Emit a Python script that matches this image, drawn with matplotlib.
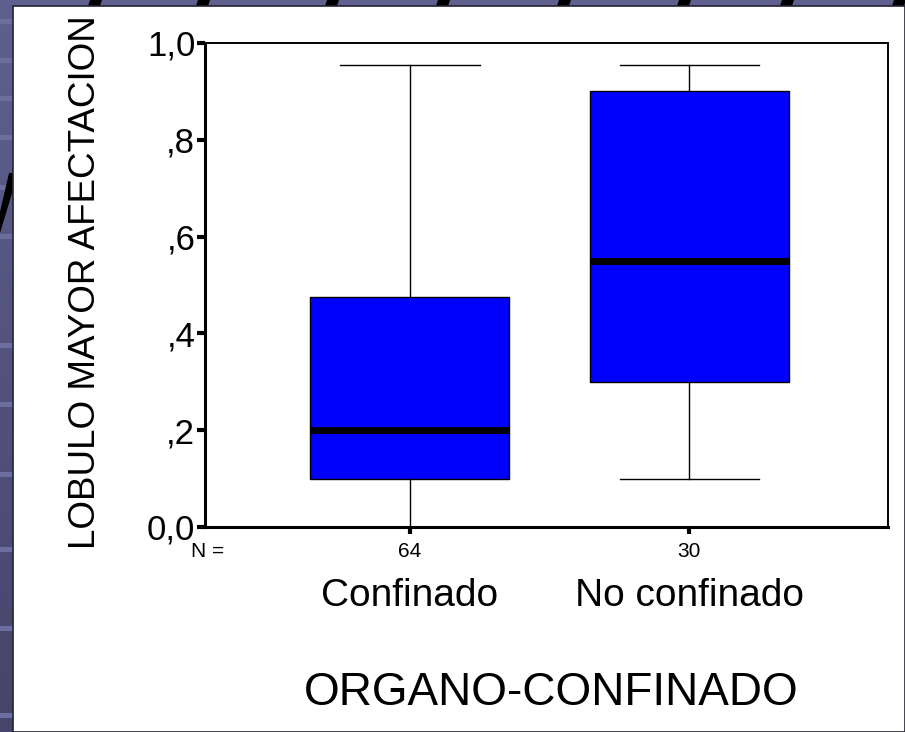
import matplotlib
matplotlib.use("Agg")
import matplotlib.pyplot as plt
import numpy as np
from matplotlib.patches import Polygon, Rectangle
from matplotlib.colors import LinearSegmentedColormap

plt.rcParams['font.family'] = ['Liberation Sans', 'DejaVu Sans']

# ---- data ----
categories = ["Confinado", "No confinado"]
n_values = [64, 30]
whis_low = [0.0, 0.10]
q1 = [0.10, 0.30]
medians = [0.20, 0.55]
q3 = [0.475, 0.90]
whis_high = [0.955, 0.955]
y_ticks = [0.0, 0.2, 0.4, 0.6, 0.8, 1.0]
y_ticklabels = ["0,0", ",2", ",4", ",6", ",8", "1,0"]
y_label = "LOBULO MAYOR AFECTACION"
x_label = "ORGANO-CONFINADO"

W, H = 905, 732
fig = plt.figure(figsize=(W / 100, H / 100), dpi=100)

# ---- slide background ----
bg = fig.add_axes([0, 0, 1, 1], zorder=-10)
bg.set_xlim(0, W)
bg.set_ylim(H, 0)
bg.axis('off')
grad = np.linspace(0, 1, 200)[:, None]
cmap = LinearSegmentedColormap.from_list('bgc', ['#60608f', '#45456b'])
bg.imshow(grad, extent=(0, W, H, 0), cmap=cmap, aspect='auto')
for yy in [19, 58, 96, 135, 185, 234, 343, 402, 472, 547, 626, 713]:
    bg.add_patch(Rectangle((0, yy), 13, 5, color='#6e6e9e', lw=0))
for xx in [88, 196, 325, 436, 557, 677, 780, 892]:
    bg.add_patch(Polygon([(xx, 6), (xx + 12, 6), (xx + 14, 0), (xx + 2, 0)],
                         closed=True, color='black', lw=0))
bg.add_patch(Polygon([(0, 233), (0, 212), (9, 173), (13, 173), (13, 190)],
                     closed=True, color='black', lw=0))
bg.add_patch(Rectangle((13, 6), W - 13, H - 6, facecolor='white', edgecolor='#222233', lw=1.2))

# ---- main axes ----
ax = fig.add_axes([205 / W, 1 - 527 / H, 683 / W, 484 / H])
positions = [1, 2]
stats = []
for i in range(len(categories)):
    stats.append(dict(whislo=whis_low[i], q1=q1[i], med=medians[i], q3=q3[i],
                      whishi=whis_high[i], fliers=[]))
ax.bxp(stats, positions=positions, widths=0.712, capwidths=0.498, patch_artist=True,
       showfliers=False,
       boxprops=dict(facecolor='#0000ff', edgecolor='black', linewidth=1.0),
       medianprops=dict(color='black', linewidth=5),
       whiskerprops=dict(color='black', linewidth=1.0),
       capprops=dict(color='black', linewidth=1.0))

ax.set_xlim(0.2665, 2.711)
ax.set_ylim(0, 1.0)
ax.set_yticks(y_ticks)
ax.set_yticklabels(y_ticklabels, fontsize=25)
ax.tick_params(axis='y', direction='out', length=6, width=3, pad=1, colors='black')
ax.set_xticks(positions)
ax.set_xticklabels([str(v) for v in n_values], fontsize=15)
ax.tick_params(axis='x', direction='out', length=5, width=3, pad=6)
for s in ['left', 'bottom']:
    ax.spines[s].set_linewidth(2.2)
for s in ['top', 'right']:
    ax.spines[s].set_linewidth(1.4)

ax.text((208 - 205) / 683, -0.05, "N =", transform=ax.transAxes, fontsize=15,
        ha='center', va='center')
for p, c in zip(positions, categories):
    ax.text(p, -0.143, c, transform=ax.get_xaxis_transform(), fontsize=28,
            ha='center', va='center')
ax.text(0.507, -0.343, x_label, transform=ax.transAxes, fontsize=33,
        ha='center', va='center')
ax.text((86 - 205) / 683, 0.505, y_label, transform=ax.transAxes, fontsize=26.5,
        rotation=90, ha='center', va='center')

fig.savefig("out.png", dpi=100)
